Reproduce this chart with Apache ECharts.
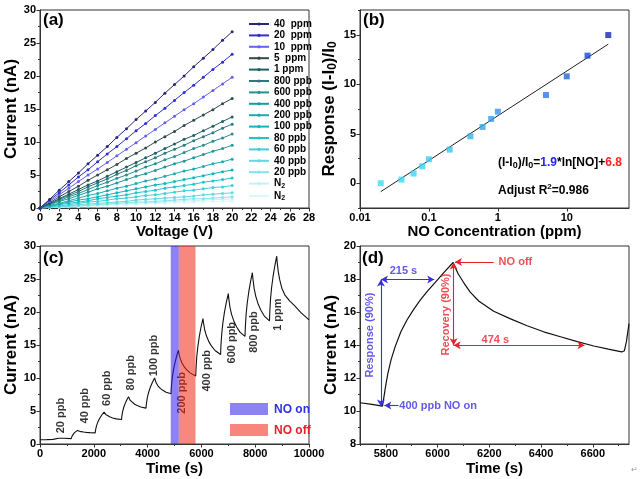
<!DOCTYPE html>
<html><head><meta charset="utf-8">
<script src="https://cdn.jsdelivr.net/npm/echarts@6/dist/echarts.min.js"></script>
<style>html,body{margin:0;padding:0;background:#fff}#c{width:640px;height:479px}</style>
</head><body><div id="c"></div>
<script>
const FONT = "'Liberation Sans', Arial, Helvetica, sans-serif";
const BLUE = '#3b30e0';
const RED = '#e8202a';

// ---------- (a) I-V curves ----------
const voltage = [0,1,2,3,4,5,6,7,8,9,10,11,12,13,14,15,16,17,18,19,20];
const ivNames = ['40  ppm','20  ppm','10  ppm','5  ppm','1 ppm','800 ppb','600 ppb','400 ppb','200 ppb','100 ppb','80 ppb','60 ppb','40 ppb','20 ppb','N2_a','N2_b'];
const iv40ppm = [0,1.3,2.7,4.0,5.3,6.7,8.0,9.3,10.7,12.0,13.4,14.7,16.0,17.4,18.7,20.0,21.4,22.7,24.0,25.4,26.7];
const iv20ppm = [0,1.2,2.3,3.5,4.7,5.8,7.0,8.2,9.3,10.5,11.7,12.8,14.0,15.1,16.3,17.5,18.6,19.8,21.0,22.1,23.3];
const iv10ppm = [0,1.0,2.0,3.0,4.0,5.0,5.9,6.9,7.9,8.9,9.9,10.9,11.9,12.9,13.9,14.9,15.8,16.8,17.8,18.8,19.8];
const iv5ppm = [0,0.8,1.7,2.5,3.3,4.2,5.0,5.8,6.6,7.5,8.3,9.1,10.0,10.8,11.6,12.5,13.3,14.1,14.9,15.8,16.6];
const iv1ppm = [0,0.7,1.4,2.1,2.8,3.5,4.1,4.8,5.5,6.2,6.9,7.6,8.3,9.0,9.7,10.4,11.0,11.7,12.4,13.1,13.8];
const iv800ppb = [0,0.6,1.3,1.9,2.5,3.2,3.8,4.4,5.1,5.7,6.4,7.0,7.6,8.3,8.9,9.5,10.2,10.8,11.4,12.1,12.7];
const iv600ppb = [0,0.6,1.1,1.7,2.2,2.8,3.4,3.9,4.5,5.0,5.6,6.2,6.7,7.3,7.8,8.4,9.0,9.5,10.1,10.6,11.2];
const iv400ppb = [0,0.5,1.0,1.4,1.9,2.4,2.9,3.3,3.8,4.3,4.8,5.2,5.7,6.2,6.7,7.1,7.6,8.1,8.6,9.0,9.5];
const iv200ppb = [0,0.4,0.7,1.1,1.5,1.9,2.2,2.6,3.0,3.3,3.7,4.1,4.4,4.8,5.2,5.6,5.9,6.3,6.7,7.0,7.4];
const iv100ppb = [0,0.3,0.6,0.9,1.2,1.4,1.7,2.0,2.3,2.6,2.9,3.2,3.5,3.7,4.0,4.3,4.6,4.9,5.2,5.5,5.75];
const iv80ppb = [0,0.2,0.5,0.7,0.9,1.1,1.4,1.6,1.8,2.0,2.3,2.5,2.7,3.0,3.2,3.4,3.6,3.9,4.1,4.3,4.55];
const iv60ppb = [0,0.2,0.3,0.5,0.7,0.9,1.0,1.2,1.4,1.5,1.7,1.9,2.0,2.2,2.4,2.6,2.7,2.9,3.1,3.2,3.4];
const iv40ppb = [0,0.1,0.2,0.3,0.5,0.6,0.7,0.8,0.9,1.0,1.2,1.3,1.4,1.5,1.6,1.7,1.8,2.0,2.1,2.2,2.3];
const iv20ppb = [0,0.1,0.2,0.3,0.3,0.4,0.5,0.6,0.7,0.8,0.9,0.9,1.0,1.1,1.2,1.3,1.4,1.4,1.5,1.6,1.7];
const ivN2a = [0,0.1,0.1,0.2,0.3,0.4,0.4,0.5,0.6,0.6,0.7,0.8,0.8,0.9,1.0,1.1,1.1,1.2,1.3,1.3,1.4];
const ivN2b = [0,0.1,0.1,0.2,0.2,0.3,0.3,0.4,0.4,0.5,0.6,0.6,0.7,0.7,0.8,0.8,0.9,0.9,1.0,1.0,1.1];
const ivCurrents = [iv40ppm,iv20ppm,iv10ppm,iv5ppm,iv1ppm,iv800ppb,iv600ppb,iv400ppb,iv200ppb,iv100ppb,iv80ppb,iv60ppb,iv40ppb,iv20ppb,ivN2a,ivN2b];
const ivColors = ['#27287a','#2f2fd2','#6461f0','#324a4c','#1f5f66','#2b7a7d','#2a8f90','#1a9a9a','#20aab0','#12b5bd','#22c4cc','#40d0d8','#62d9e1','#84e4ea','#c6f1f2','#ddf8f8'];

// ---------- (b) response vs concentration ----------
const concPpm = [0.02,0.04,0.06,0.08,0.1,0.2,0.4,0.6,0.8,1,5,10,20,40];
const responseVals = [0.0,0.37,0.98,1.71,2.42,3.4,4.74,5.68,6.49,7.23,8.91,10.8,12.89,14.97];
const fitConc = [0.02,40];
const fitResp = [-0.85,14.05];
const respColors = ['#36e0f0','#36dcf0','#34d8f0','#34d4f0','#34d0f0','#32c6ee','#38b2ee','#3aa4ec','#3a9aec','#3892ea','#2c78e2','#2266da','#1a48cc','#1226c0'];

// ---------- (c) dynamic response ----------
const timeC = [0,250,480,500,540,700,900,1160,1172,1195,1229,1275,1333,1390,1410,1456,1522,1621,1720,1852,2050,
  2066,2100,2149,2215,2298,2380,2400,2445,2510,2608,2705,2835,3030,
  3043,3069,3108,3160,3225,3290,3310,3355,3420,3518,3615,3745,3940,
  3956,3988,4036,4100,4180,4260,4278,4321,4382,4474,4565,4687,4870,
  4884,4911,4953,5008,5076,5145,5164,5209,5273,5369,5465,5593,5788,
  5802,5828,5869,5923,5990,6058,6078,6124,6189,6287,6386,6517,6713,
  6727,6756,6799,6856,6928,7000,7019,7062,7124,7217,7310,7434,7620,
  7634,7661,7703,7758,7826,7895,7914,7959,8022,8117,8213,8340,8530,
  8544,8570,8611,8665,8733,8800,8818,8855,8910,8990,9100,9280,9480,9700,10000];
const currentC = [0.65,0.67,0.70,0.82,0.88,0.88,0.86,0.82,1.01,1.24,1.46,1.68,1.89,2.06,2.01,1.94,1.87,1.81,1.76,1.72,1.68,
  2.15,2.75,3.32,3.86,4.40,4.84,4.70,4.48,4.28,4.09,3.95,3.81,3.70,
  4.22,4.87,5.49,6.08,6.67,7.15,6.94,6.60,6.31,6.02,5.82,5.61,5.44,
  6.12,6.99,7.81,8.59,9.36,10.0,9.71,9.23,8.82,8.42,8.13,7.84,7.60,
  8.59,9.84,11.03,12.15,13.28,14.2,13.74,12.97,12.31,11.66,11.20,10.74,10.30,
  11.6,13.25,14.8,16.3,17.8,19.0,18.35,17.27,16.35,15.43,14.78,14.13,13.56,
  14.95,16.7,18.36,19.94,21.5,22.8,22.02,20.72,19.6,18.51,17.73,16.95,16.3,
  17.75,19.58,21.32,22.96,24.6,25.95,25.07,23.61,22.37,21.13,20.26,19.38,18.65,
  20.12,21.98,23.75,25.41,27.08,28.45,27.5,26.2,24.9,23.6,22.6,21.7,20.9,19.9,18.8];
const cLabels = ['20 ppb','40 ppb','60 ppb','80 ppb','100 ppb','200 ppb','400 ppb','600 ppb','800 ppb','1 ppm'];
const cLabelAnchors = [[780,4.3],[1670,5.8],[2500,8.45],[3380,10.8],[4233,13.4],[5260,7.75],[6190,11.1],[7140,15.35],[7960,16.96],[8850,19.6]];
const cBands = [[4860,5160,0],[5160,5780,1]]; // [start, end, kind: 0 = NO on, 1 = NO off]
const bandFill = ['rgba(46,28,237,0.55)','rgba(242,37,20,0.55)'];

// ---------- (d) zoom of 400 ppb cycle ----------
const timeD = [5700,5740,5787,5793,5800,5808,5820,5836,5858,5881,5905,5932,5960,5991,6025,6060,
  6068,6080,6100,6126,6160,6217,6280,6346,6410,6475,6540,6604,6660,6712,6722,6730,6740];
const currentD = [10.50,10.42,10.30,10.9,11.6,12.3,13.1,13.9,14.8,15.5,16.1,16.7,17.25,17.8,18.4,19.0,
  18.7,18.3,17.8,17.2,16.65,16.05,15.6,15.17,14.8,14.5,14.2,13.94,13.75,13.58,13.65,14.2,15.3];
const dArrows = [
  {from:[5781,10.28], to:[5781,17.97], color:BLUE, s:'arrow', e:'arrow'},
  {from:[5781,17.97], to:[5987,17.97], color:BLUE, s:'arrow', e:'arrow'},
  {from:[5849,10.33], to:[5794,10.33], color:BLUE, s:'none', e:'arrow'},
  {from:[6217,19.03], to:[6067,19.03], color:RED, s:'none', e:'arrow'},
  {from:[6062,19.0], to:[6062,13.98], color:RED, s:'arrow', e:'arrow'},
  {from:[6062,13.98], to:[6568,13.98], color:RED, s:'arrow', e:'arrow'}
];
const dTexts = ['215 s','474 s','Response (90%)','Recovery (90%)','400 ppb NO on','NO off'];
const dTextAnchors = [[5868,18.5],[6223,14.3],[5739,14.6],[6033,15.85],[5850,10.3],[6234,19.05]];
const dTextStyle = [
  {color:BLUE, rotate:0, position:'inside'},
  {color:RED, rotate:0, position:'inside'},
  {color:BLUE, rotate:90, position:'inside'},
  {color:RED, rotate:90, position:'inside'},
  {color:BLUE, rotate:0, position:'right'},
  {color:RED, rotate:0, position:'right'}
];

// ---------- helpers ----------
function merge(a, b) {
  const out = Array.isArray(a) ? a.slice() : Object.assign({}, a);
  for (const k in b) {
    if (b[k] && typeof b[k] === 'object' && !Array.isArray(b[k]) && a[k] && typeof a[k] === 'object') out[k] = merge(a[k], b[k]);
    else out[k] = b[k];
  }
  return out;
}
const AX = '#333';
const plain = v => String(+(+v).toPrecision(6));
const baseAxis = {
  axisLine:{show:true, onZero:false, lineStyle:{color:AX, width:1}},
  axisTick:{show:true, inside:false, length:3.5, lineStyle:{color:AX, width:1}},
  minorTick:{show:false},
  splitLine:{show:false},
  minorSplitLine:{show:false},
  axisLabel:{color:'#000', fontSize:11, fontWeight:'bold', fontFamily:FONT, margin:4, formatter:plain},
  nameLocation:'middle',
  nameTextStyle:{color:'#000', fontWeight:'bold', fontFamily:FONT, fontSize:15}
};
const minorOn = {minorTick:{show:true, splitNumber:2, length:2, lineStyle:{color:AX, width:1}}};
function ax(extra) { return merge(baseAxis, extra); }
function minorAxis(extra) {
  return merge({type:'value', axisLine:{show:false}, axisLabel:{show:false}, splitLine:{show:false},
    axisTick:{show:true, inside:false, length:2, lineStyle:{color:AX, width:1}}}, extra);
}
const gridBase = {show:true, borderColor:AX, borderWidth:1, width:269, height:198, containLabel:false};

const series = [];
ivCurrents.forEach((arr, i) => {
  series.push({
    type:'line', name:ivNames[i], xAxisIndex:0, yAxisIndex:0,
    data: voltage.map((v, j) => [v, arr[j]]),
    symbol:'circle', symbolSize:3, showSymbol:true,
    lineStyle:{width:1, color:ivColors[i]}, itemStyle:{color:ivColors[i]},
    z: 2 + (ivCurrents.length - i) * 0.01, silent:true
  });
});
series.push({
  type:'scatter', xAxisIndex:1, yAxisIndex:1, symbol:'rect', symbolSize:6, silent:true, z:4,
  data: concPpm.map((c, i) => ({value:[c, responseVals[i]], itemStyle:{color:respColors[i]}}))
});
series.push({
  type:'line', xAxisIndex:1, yAxisIndex:1, symbol:'none', silent:true, z:3,
  data: fitConc.map((c, i) => [c, fitResp[i]]), lineStyle:{color:'#222', width:1}
});
series.push({
  type:'line', xAxisIndex:2, yAxisIndex:3, symbol:'none', silent:true, z:2,
  data: timeC.map((t, i) => [t, currentC[i]]), lineStyle:{color:'#111', width:1.1}
});
series.push({
  type:'scatter', xAxisIndex:2, yAxisIndex:3, symbolSize:1, silent:true, z:3,
  itemStyle:{color:'rgba(0,0,0,0)'},
  data: cLabels.map((t, i) => ({name:t, value:cLabelAnchors[i]})),
  label:{show:true, formatter:'{b}', position:'inside', rotate:90, color:'#000', fontSize:11, fontWeight:'bold', fontFamily:FONT}
});
series.push({
  type:'custom', xAxisIndex:2, yAxisIndex:3, silent:true, z:10, clip:true,
  data: cBands,
  encode:{x:[0,1]},
  renderItem: function (params, api) {
    const p0 = api.coord([api.value(0), 30]);
    const p1 = api.coord([api.value(1), 0]);
    return {type:'rect', shape:{x:p0[0], y:p0[1], width:p1[0]-p0[0], height:p1[1]-p0[1]},
      style:{fill: bandFill[api.value(2)]}};
  }
});
series.push({
  type:'line', xAxisIndex:3, yAxisIndex:4, symbol:'none', silent:true, z:2,
  data: timeD.map((t, i) => [t, currentD[i]]), lineStyle:{color:'#111', width:1.2},
  markLine:{
    silent:true, symbolSize:[6,7], animation:false, label:{show:false},
    emphasis:{disabled:true},
    data: dArrows.map(a => [
      {coord:a.from, symbol:a.s, lineStyle:{color:a.color, width:1.1, type:'solid'}, itemStyle:{color:a.color}},
      {coord:a.to, symbol:a.e}
    ])
  }
});
series.push({
  type:'scatter', xAxisIndex:3, yAxisIndex:4, symbolSize:1, silent:true, z:5,
  itemStyle:{color:'rgba(0,0,0,0)'},
  data: dTexts.map((t, i) => ({name:t, value:dTextAnchors[i],
    label:{color:dTextStyle[i].color, rotate:dTextStyle[i].rotate, position:dTextStyle[i].position, distance:0}})),
  label:{show:true, formatter:'{b}', fontSize:11, fontWeight:'bold', fontFamily:FONT}
});

const option = {
  animation:false,
  backgroundColor:'#fff',
  grid:[
    merge(gridBase, {left:40, top:10}),
    merge(gridBase, {left:360, top:10}),
    merge(gridBase, {left:40, top:246}),
    merge(gridBase, {left:360, top:246})
  ],
  xAxis:[
    ax(merge(minorOn, {type:'value', gridIndex:0, min:0, max:28, interval:2, name:'Voltage (V)', nameGap:16})),
    ax({type:'log', logBase:10, gridIndex:1, min:0.01, max:80, name:'NO Concentration (ppm)', nameGap:16,
      axisLabel:{customValues:[0.01,0.1,1,10], formatter: v => String(+(+v).toPrecision(3))},
      axisTick:{customValues:[0.01,0.1,1,10]}}),
    ax(merge(minorOn, {type:'value', gridIndex:2, min:0, max:10000, interval:2000, name:'Time (s)', nameGap:17})),
    ax({type:'value', gridIndex:3, min:5700, max:6740, name:'Time (s)', nameGap:17,
      axisLabel:{customValues:[5800,6000,6200,6400,6600]}, axisTick:{customValues:[5800,6000,6200,6400,6600]}}),
    minorAxis({gridIndex:3, position:'bottom', min:5700, max:6740, axisTick:{customValues:[5700,5900,6100,6300,6500,6700]}})
  ],
  yAxis:[
    ax(merge(minorOn, {type:'value', gridIndex:0, min:0, max:30, interval:5, name:'Current (nA)', nameGap:20,
      nameTextStyle:{fontSize:17}})),
    ax({type:'value', gridIndex:1, min:-2.5, max:17.5, name:'Response (I-I{s|0})/I{s|0}', nameGap:21,
      axisLabel:{customValues:[0,5,10,15]}, axisTick:{customValues:[0,5,10,15]},
      nameTextStyle:{fontSize:17, rich:{s:{fontSize:12, fontWeight:'bold', fontFamily:FONT, color:'#000', verticalAlign:'bottom', padding:[7,0,0,0]}}}}),
    minorAxis({gridIndex:1, position:'left', min:-2.5, max:17.5, axisTick:{customValues:[-2.5,2.5,7.5,12.5,17.5]}}),
    ax(merge(minorOn, {type:'value', gridIndex:2, min:0, max:30, interval:5, name:'Current (nA)', nameGap:20,
      nameTextStyle:{fontSize:17}})),
    ax(merge(minorOn, {type:'value', gridIndex:3, min:8, max:20, interval:2, name:'Current (nA)', nameGap:20,
      nameTextStyle:{fontSize:17}}))
  ],
  legend:{
    data: ivNames, orient:'vertical', left:243, top:14, itemWidth:20, itemHeight:4, itemGap:1.4,
    selectedMode:false,
    itemStyle:{borderWidth:0},
    textStyle:{fontSize:10, fontWeight:'bold', fontFamily:FONT, color:'#000',
      rich:{sub:{fontSize:7, fontWeight:'bold', fontFamily:FONT, color:'#000', verticalAlign:'bottom', padding:[5,0,0,0]}}},
    formatter: n => n.indexOf('N2') === 0 ? 'N{sub|2}' : n
  },
  graphic:[
    {type:'text', x:43, y:20, style:{text:'(a)', font:'bold 17px ' + FONT, fill:'#000', verticalAlign:'middle'}},
    {type:'text', x:363, y:20, style:{text:'(b)', font:'bold 17px ' + FONT, fill:'#000', verticalAlign:'middle'}},
    {type:'text', x:43, y:258, style:{text:'(c)', font:'bold 17px ' + FONT, fill:'#000', verticalAlign:'middle'}},
    {type:'text', x:362, y:258, style:{text:'(d)', font:'bold 17px ' + FONT, fill:'#000', verticalAlign:'middle'}},
    {type:'text', x:498, y:163, style:{text:'(I-I{s|0})/I{s|0}={b|1.9}*ln[NO]+{r|6.8}',
      font:'bold 12px ' + FONT, fill:'#000', verticalAlign:'middle', align:'left',
      rich:{s:{font:'bold 9px ' + FONT, fill:'#000', verticalAlign:'bottom', padding:[6,0,0,0]},
            b:{font:'bold 12px ' + FONT, fill:'#2424ff'},
            r:{font:'bold 12px ' + FONT, fill:'#ff2020'}}}},
    {type:'text', x:498, y:191, style:{text:'Adjust R{p|2}=0.986', font:'bold 12px ' + FONT, fill:'#000',
      verticalAlign:'middle', align:'left', lineHeight:16,
      rich:{p:{font:'bold 8px ' + FONT, fill:'#000', verticalAlign:'top', lineHeight:8}}}},
    {type:'rect', shape:{x:230, y:403, width:38, height:12}, style:{fill:'#8c84f4'}},
    {type:'rect', shape:{x:230, y:424, width:38, height:12}, style:{fill:'#f8867c'}},
    {type:'text', x:274, y:409.5, style:{text:'NO on', font:'bold 12px ' + FONT, fill:'#3030e6', verticalAlign:'middle'}},
    {type:'text', x:274, y:430.5, style:{text:'NO off', font:'bold 12px ' + FONT, fill:'#e8202a', verticalAlign:'middle'}},
    {type:'text', x:631, y:470, style:{text:'\u21b5', font:'8px ' + FONT, fill:'#999', verticalAlign:'middle'}}
  ],
  series: series
};
const chart = echarts.init(document.getElementById('c'), null, {renderer:'canvas', width:640, height:479});
chart.setOption(option);
</script>
</body></html>
